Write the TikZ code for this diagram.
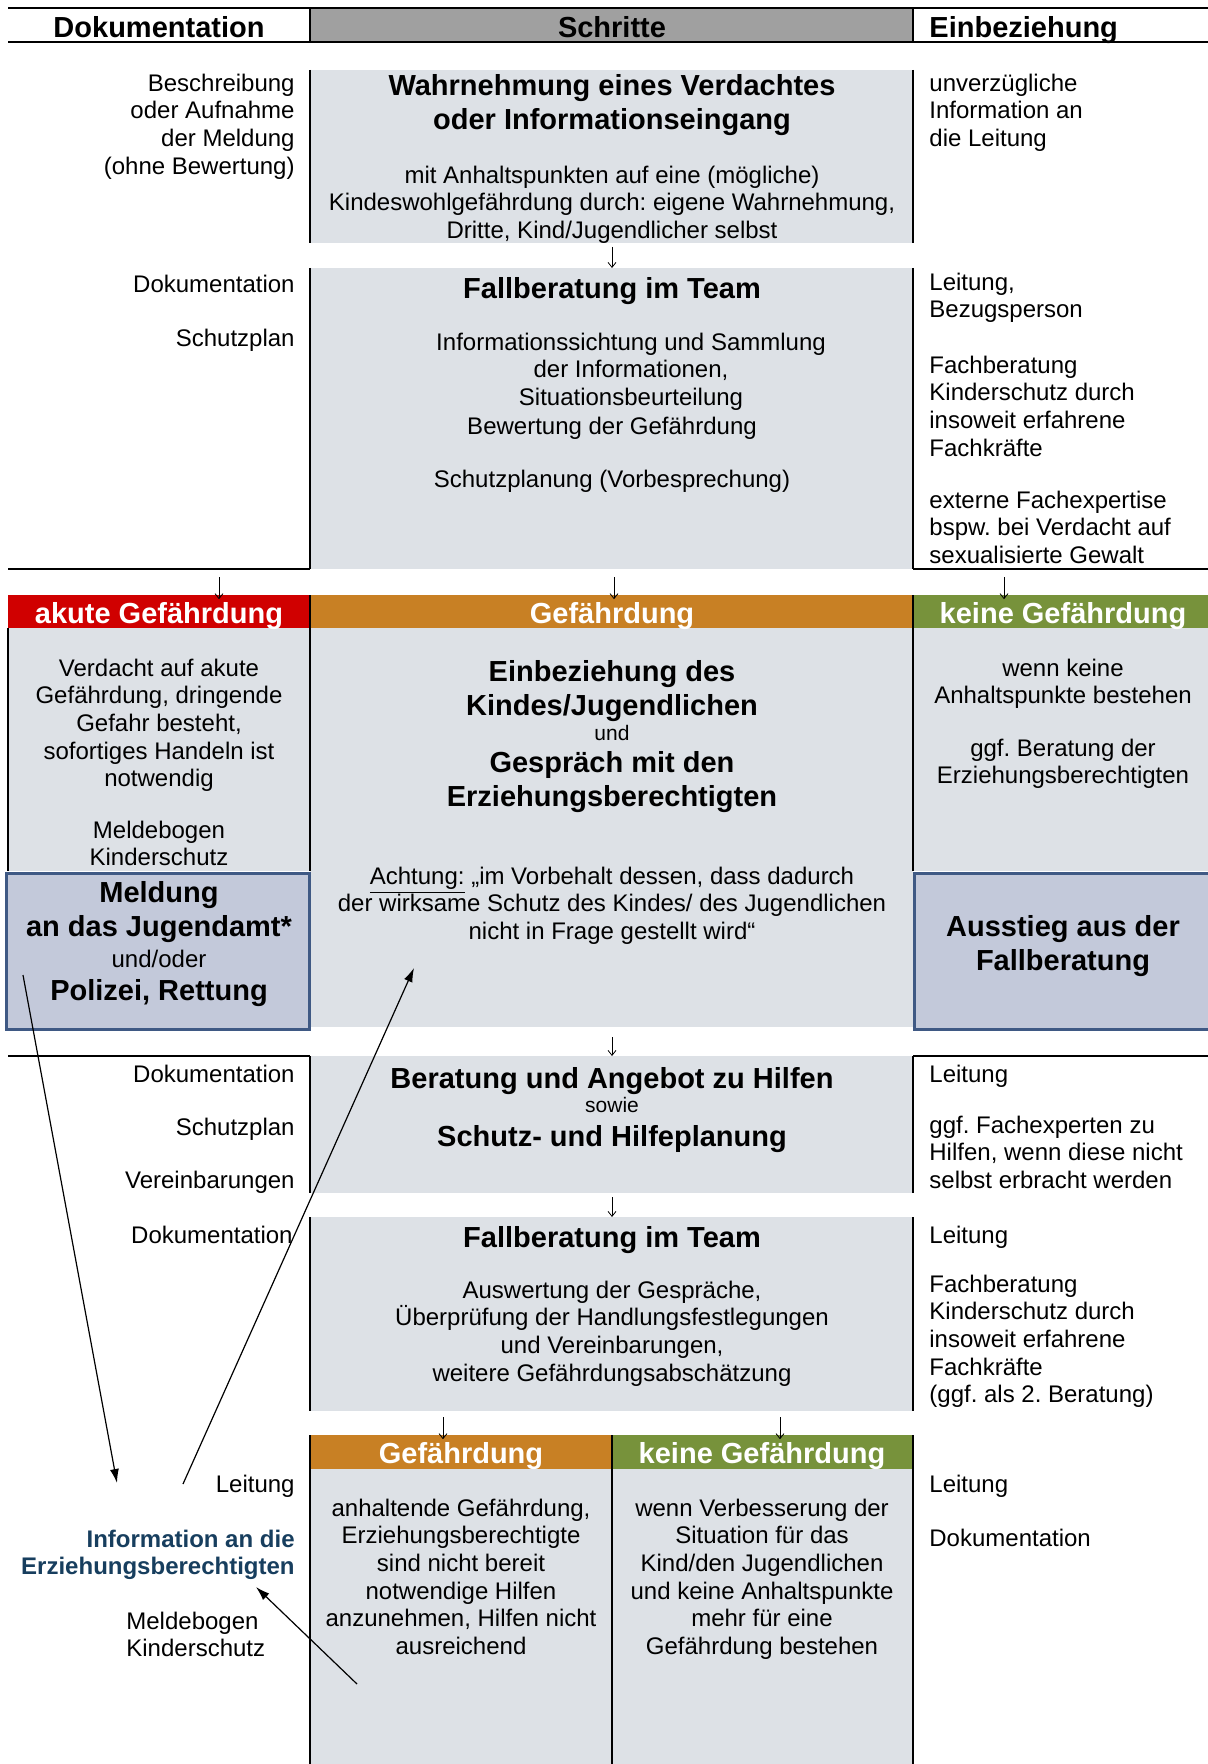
\documentclass[tikz,border=0pt]{standalone}
\usepackage{fontspec}
\setmainfont{Liberation Sans}
\frenchspacing
\usetikzlibrary{arrows.meta}
\definecolor{boxgray}{RGB}{221,225,230}
\definecolor{headgray}{RGB}{160,160,160}
\definecolor{acutered}{RGB}{208,0,0}
\definecolor{riskorange}{RGB}{200,128,36}
\definecolor{safegreen}{RGB}{119,146,59}
\definecolor{reportfill}{RGB}{195,201,218}
\definecolor{reportline}{RGB}{63,89,132}
\definecolor{infoblue}{RGB}{23,62,94}
\begin{document}
\begin{tikzpicture}[x=0.5pt,y=-0.5pt,
    txt/.style={font=\fontsize{12}{13.8}\selectfont, inner sep=0pt, yshift=-1.25pt, execute at begin node=\strut},
    ttl/.style={font=\fontsize{14.5}{16.8}\selectfont\bfseries, inner sep=0pt, yshift=-1.1pt, execute at begin node=\strut},
    sml/.style={font=\fontsize{10.5}{12}\selectfont, inner sep=0pt, execute at begin node=\strut},
    infotxt/.style={txt, font=\fontsize{12}{13.8}\selectfont\bfseries, text=infoblue},
    bar/.style={ttl, text=white},
    flow/.style={-{Straight Barb[length=2.5pt,width=4pt]}, line width=0.4pt},
    diag/.style={-{Latex[length=7pt,width=4.5pt]}, line width=0.6pt},
    rule/.style={line width=1.2pt},
    col/.style={line width=1pt}]
  \useasboundingbox (0,0) rectangle (1208,1764);
  \fill[headgray] (310,8) rectangle (913,42);
  \fill[boxgray] (310,70) rectangle (913,243);
  \fill[boxgray] (310,268) rectangle (913,569);
  \fill[acutered] (8,595) rectangle (310,628);
  \fill[riskorange] (310,595) rectangle (913,628);
  \fill[safegreen] (913,595) rectangle (1208,628);
  \fill[boxgray] (8,628) rectangle (1208,871);
  \fill[boxgray] (310,871) rectangle (913,1027);
  \filldraw[fill=reportfill, draw=reportline, line width=1.5pt] (6,873) rectangle (309,1029);
  \filldraw[fill=reportfill, draw=reportline, line width=1.5pt] (914,873) rectangle (1214,1029);
  \fill[boxgray] (310,1056) rectangle (913,1193);
  \fill[boxgray] (310,1217) rectangle (913,1411);
  \fill[riskorange] (310,1435) rectangle (612,1469);
  \fill[safegreen] (612,1435) rectangle (913,1469);
  \fill[boxgray] (310,1469) rectangle (913,1764);

  \draw[rule] (8,8) -- (1208,8);
  \draw[rule] (8,42) -- (1208,42);
  \draw[rule] (8,569) -- (310,569) (913,569) -- (1208,569);
  \draw[rule] (8,1056) -- (310,1056) (913,1056) -- (1208,1056);
  \draw[col] (310,8) -- (310,42) (913,8) -- (913,42);
  \draw[col] (310,70) -- (310,243) (913,70) -- (913,243);
  \draw[col] (310,268) -- (310,569) (913,268) -- (913,569);
  \draw[col] (310,595) -- (310,871) (913,595) -- (913,871) (8,628) -- (8,871);
  \draw[col] (310,1056) -- (310,1193) (913,1056) -- (913,1193);
  \draw[col] (310,1217) -- (310,1411) (913,1217) -- (913,1411);
  \draw[col] (310,1435) -- (310,1764) (612,1435) -- (612,1764) (913,1435) -- (913,1764);

  \node[ttl, anchor=north] (hdoc) at (159,11) {Dokumentation};
  \node[ttl, anchor=north] (hstep) at (612,11) {Schritte};
  \node[ttl, anchor=north west] (hinv) at (929,11) {Einbeziehung};

  \node[txt, anchor=north east, align=right] (doc1) at (295,71) {Beschreibung\\oder Aufnahme\\der Meldung\\(ohne Bewertung)};
  \node[ttl, anchor=north, align=center] (wahr) at (612,72) {Wahrnehmung eines Verdachtes\\oder Informationseingang};
  \node[txt, anchor=north, align=center] (wahrtxt) at (612,163) {mit Anhaltspunkten auf eine (mögliche)\\Kindeswohlgefährdung durch: eigene Wahrnehmung,\\Dritte, Kind/Jugendlicher selbst};
  \node[txt, anchor=north west, align=left] (inv1) at (929,71) {unverzügliche\\Information an\\die Leitung};

  \node[txt, anchor=north east] (doc2) at (295,270) {Dokumentation};
  \node[txt, anchor=north east] (plan2) at (295,324) {Schutzplan};
  \node[ttl, anchor=north] (team1) at (612,272) {Fallberatung im Team};
  \node[txt, anchor=north, align=center] (team1a) at (631,330) {Informationssichtung und Sammlung\\der Informationen,\\Situationsbeurteilung};
  \node[txt, anchor=north] (team1b) at (612,412) {Bewertung der Gefährdung};
  \node[txt, anchor=north] (team1c) at (612,465) {Schutzplanung (Vorbesprechung)};
  \node[txt, anchor=north west, align=left] (inv2a) at (929,270) {Leitung,\\Bezugsperson};
  \node[txt, anchor=north west, align=left] (inv2b) at (929,353) {Fachberatung\\Kinderschutz durch\\insoweit erfahrene\\Fachkräfte};
  \node[txt, anchor=north west, align=left] (inv2c) at (929,488) {externe Fachexpertise\\bspw. bei Verdacht auf\\sexualisierte Gewalt};

  \node[bar, anchor=north] (akut) at (159,597) {akute Gefährdung};
  \node[bar, anchor=north] (gef) at (612,597) {Gefährdung};
  \node[bar, anchor=north] (keine) at (1063,597) {keine Gefährdung};

  \node[txt, anchor=north, align=center] (akut1) at (159,656) {Verdacht auf akute\\Gefährdung, dringende\\Gefahr besteht,\\sofortiges Handeln ist\\notwendig};
  \node[txt, anchor=north, align=center] (akut2) at (159,818) {Meldebogen\\Kinderschutz};
  \node[ttl, anchor=north, align=center] (meld) at (159,879) {Meldung\\an das Jugendamt*};
  \node[txt, anchor=north] (undoder) at (159,945) {und/oder};
  \node[ttl, anchor=north] (pol) at (159,974) {Polizei, Rettung};
  \node[ttl, anchor=north, align=center] (einb) at (612,658) {Einbeziehung des\\Kindes/Jugendlichen};
  \node[sml, anchor=north] (und) at (612,723) {und};
  \node[ttl, anchor=north, align=center] (gespr) at (612,749) {Gespräch mit den\\Erziehungsberechtigten};
  \node[txt, anchor=north, align=center] (acht) at (612,864) {\underline{Achtung:} „im Vorbehalt dessen, dass dadurch\\der wirksame Schutz des Kindes/ des Jugendlichen\\nicht in Frage gestellt wird“};
  \node[txt, anchor=north, align=center] (keine1) at (1063,656) {wenn keine\\Anhaltspunkte bestehen};
  \node[txt, anchor=north, align=center] (keine2) at (1063,736) {ggf. Beratung der\\Erziehungsberechtigten};
  \node[ttl, anchor=north, align=center] (aus) at (1063,913) {Ausstieg aus der\\Fallberatung};

  \node[txt, anchor=north east] (doc4a) at (295,1060) {Dokumentation};
  \node[txt, anchor=north east] (doc4b) at (295,1113) {Schutzplan};
  \node[txt, anchor=north east] (doc4c) at (295,1166) {Vereinbarungen};
  \node[ttl, anchor=north] (ber) at (612,1062) {Beratung und Angebot zu Hilfen};
  \node[sml, anchor=north] (sowie) at (612,1095) {sowie};
  \node[ttl, anchor=north] (schutz) at (612,1120) {Schutz- und Hilfeplanung};
  \node[txt, anchor=north west] (inv4a) at (929,1060) {Leitung};
  \node[txt, anchor=north west, align=left] (inv4b) at (929,1113) {ggf. Fachexperten zu\\Hilfen, wenn diese nicht\\selbst erbracht werden};

  \node[txt, anchor=north east] (doc5) at (293,1221) {Dokumentation};
  \node[ttl, anchor=north] (team2) at (612,1221) {Fallberatung im Team};
  \node[txt, anchor=north, align=center] (team2a) at (612,1278) {Auswertung der Gespräche,\\Überprüfung der Handlungsfestlegungen\\und Vereinbarungen,\\weitere Gefährdungsabschätzung};
  \node[txt, anchor=north west] (inv5a) at (929,1221) {Leitung};
  \node[txt, anchor=north west, align=left] (inv5b) at (929,1272) {Fachberatung\\Kinderschutz durch\\insoweit erfahrene\\Fachkräfte\\(ggf. als 2. Beratung)};

  \node[bar, anchor=north] (gef2) at (461,1437) {Gefährdung};
  \node[bar, anchor=north] (keine3) at (762,1437) {keine Gefährdung};
  \node[txt, anchor=north, align=center] (gef2a) at (461,1496) {anhaltende Gefährdung,\\Erziehungsberechtigte\\sind nicht bereit\\notwendige Hilfen\\anzunehmen, Hilfen nicht\\ausreichend};
  \node[txt, anchor=north, align=center] (keine3a) at (762,1496) {wenn Verbesserung der\\Situation für das\\Kind/den Jugendlichen\\und keine Anhaltspunkte\\mehr für eine\\Gefährdung bestehen};
  \node[txt, anchor=north east, yshift=1.25pt] (lei6) at (295,1473) {Leitung};
  \node[infotxt, anchor=north east, align=right] (info) at (295,1527) {Information an die\\Erziehungsberechtigten};
  \node[txt, anchor=north west, align=left] (meld6) at (126,1609) {Meldebogen\\Kinderschutz};
  \node[txt, anchor=north west, yshift=1.25pt] (inv6a) at (929,1473) {Leitung};
  \node[txt, anchor=north west] (inv6b) at (929,1524) {Dokumentation};

  \coordinate (w1) at (612,247);
  \coordinate (f1) at (612,268);
  \coordinate (f1l) at (219,577);
  \coordinate (f1m) at (614,577);
  \coordinate (f1r) at (1004,577);
  \coordinate (g1) at (612,1037);
  \coordinate (b1) at (612,1056);
  \coordinate (b2) at (612,1197);
  \coordinate (f2) at (612,1217);
  \coordinate (f2l) at (443,1417);
  \coordinate (f2r) at (780,1417);
  \draw[flow] (w1) -- (f1);
  \draw[flow] (f1l) -- (f1l |- akut.north);
  \draw[flow] (f1m) -- (f1m |- gef.north);
  \draw[flow] (f1r) -- (f1r |- keine.north);
  \draw[flow] (g1) -- (b1);
  \draw[flow] (b2) -- (f2);
  \draw[flow] (f2l) -- (f2l |- gef2.north);
  \draw[flow] (f2r) -- (f2r |- keine3.north);

  \coordinate (d1s) at (23,975);
  \coordinate (d1e) at (117,1483);
  \coordinate (d2s) at (183,1484);
  \coordinate (d2e) at (414,968);
  \coordinate (d3s) at (357,1684);
  \coordinate (d3e) at (256,1587);
  \draw[diag] (d1s) -- (d1e);
  \draw[diag] (d2s) -- (d2e);
  \draw[diag] (d3s) -- (d3e);
\end{tikzpicture}
\end{document}
